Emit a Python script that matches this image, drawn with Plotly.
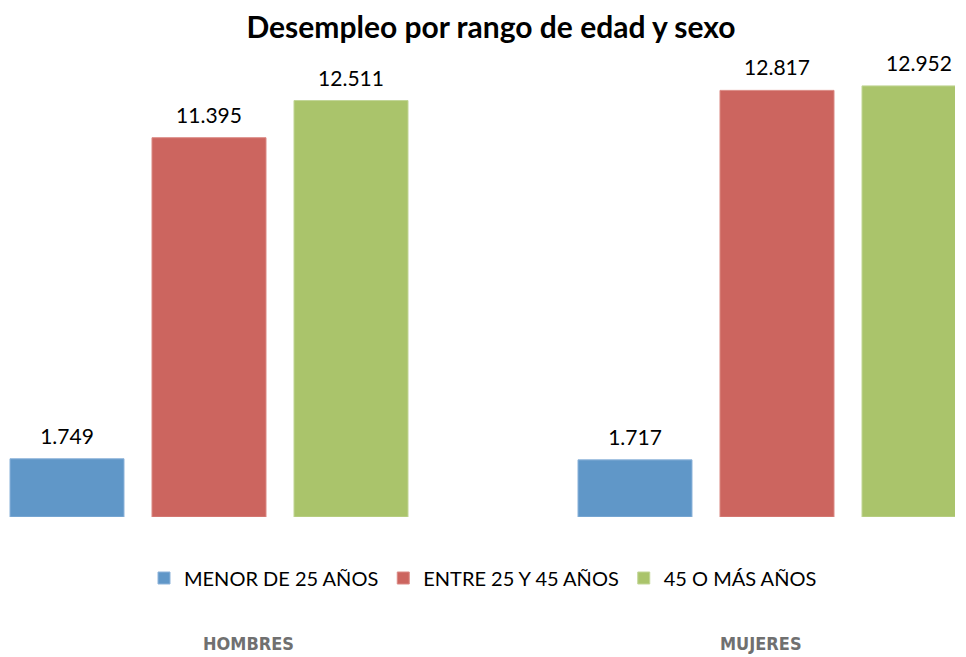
import plotly.graph_objects as go

categories = ["HOMBRES", "MUJERES"]
series_names = ["MENOR DE 25 AÑOS", "ENTRE 25 Y 45 AÑOS", "45 O MÁS AÑOS"]
menor_25 = [1749, 1717]
entre_25_45 = [11395, 12817]
mas_45 = [12511, 12952]
values = [menor_25, entre_25_45, mas_45]

colors = ["#6097C8", "#CC655F", "#AAC46B"]
edge = ["#8DB3DA", "#DB8A85", "#C2D697"]
FONT = "Lato, Open Sans, sans-serif"

fig = go.Figure()
for i, (name, vals, c, e) in enumerate(zip(series_names, values, colors, edge)):
    fig.add_trace(go.Bar(
        x=categories, y=vals, name=name,
        marker=dict(color=c, line=dict(color=e, width=1)),
        hoverinfo="skip",
    ))
for i, vals in enumerate(values):
    fig.add_trace(go.Scatter(
        x=categories, y=vals, mode="markers+text",
        orientation="v", offsetgroup="s%d" % i, alignmentgroup="s",
        marker=dict(size=14, opacity=0),
        texttemplate="%{y:,}", textposition="top center",
        textfont=dict(family=FONT, size=21, color="#000000"),
        cliponaxis=False, showlegend=False, hoverinfo="skip",
    ))

W, H = 966, 657
plot_left, plot_right = 0, 955
grp0_px, cat_px = 209, 568
x0 = (plot_left - grp0_px) / cat_px
x1 = (plot_right - grp0_px) / cat_px
top, base = 51, 517

fig.update_layout(
    width=W, height=H,
    paper_bgcolor="white", plot_bgcolor="white",
    separators=",.",
    barmode="group", bargap=0.25, bargroupgap=0.197,
    scattermode="group", scattergap=0.25,
    margin=dict(l=plot_left, r=W - plot_right, t=top, b=H - base),
    title=dict(text="<b>Desempleo por rango de edad y sexo</b>",
               x=491 / W, xref="container", xanchor="center",
               y=1 - 27 / H, yref="container", yanchor="middle",
               font=dict(family=FONT, size=30, color="#000000")),
    xaxis=dict(range=[x0, x1], showticklabels=False, showgrid=False,
               zeroline=False, showline=False, ticks=""),
    yaxis=dict(range=[0, 14000], visible=False, showgrid=False, zeroline=False),
    legend=dict(orientation="h", x=483 / W, xref="container", xanchor="center",
                y=1 - 578 / H, yref="container", yanchor="middle",
                font=dict(family=FONT, size=20, color="#000000"),
                itemclick=False, itemdoubleclick=False, traceorder="normal"),
    showlegend=True,
    hovermode=False,
)

label_x = [251, 770]
for cat, px in zip(categories, label_x):
    fig.add_annotation(text="<b>" + cat + "</b>", xref="paper", yref="paper",
                       x=px / W, y=-(643 - base) / (base - top),
                       xanchor="center", yanchor="middle", showarrow=False,
                       font=dict(family="DejaVu Sans Condensed, sans-serif",
                                 size=18, color="#707070"))

fig.write_html("out.html", config={"displayModeBar": False},
               post_script="document.body.style.margin='0';")
